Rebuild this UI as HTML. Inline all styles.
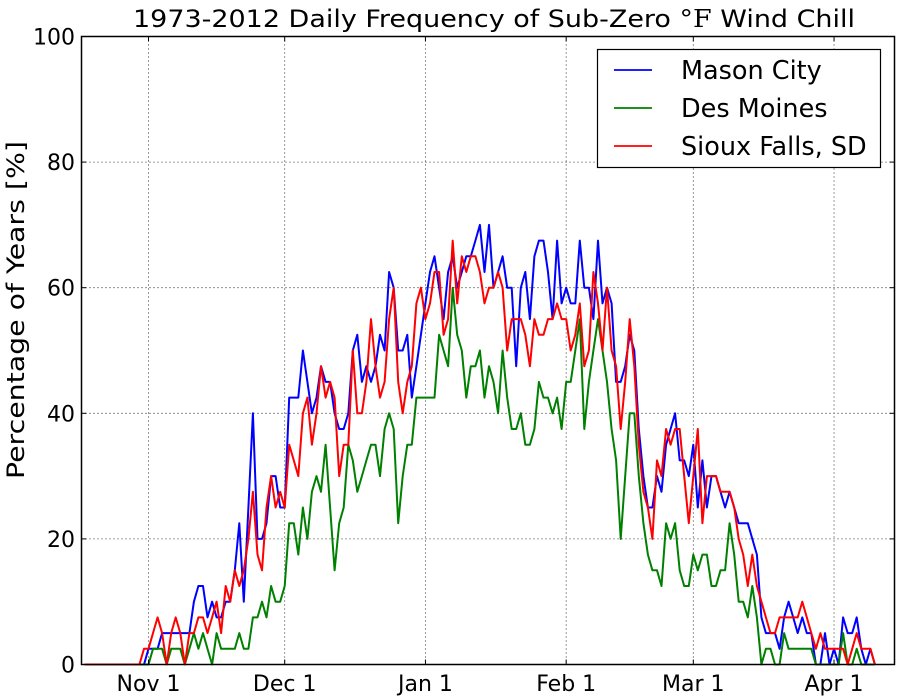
<!DOCTYPE html>
<html><head><meta charset="utf-8"><style>
body{margin:0;background:#fff;}
svg{display:block;font-family:"DejaVu Sans","Liberation Sans",sans-serif;}
</style></head><body>
<svg id="chart" width="900" height="699" viewBox="0 0 900 699" xmlns="http://www.w3.org/2000/svg">
<rect width="900" height="699" fill="#fff"/>
<text x="133" y="27" font-size="24" textLength="722" lengthAdjust="spacingAndGlyphs">1973-2012 Daily Frequency of Sub-Zero <tspan>°</tspan><tspan font-family="'DejaVu Serif','Liberation Serif',serif">F</tspan> Wind Chill</text>
<text transform="translate(24,479) rotate(-90)" font-size="24" textLength="338" lengthAdjust="spacingAndGlyphs">Percentage of Years [%]</text>
<g id="grid"></g>
<g id="series"></g>
<rect x="81.5" y="36.5" width="813" height="628" fill="none" stroke="#000" stroke-width="1.5"/>
<g id="ticks"></g>
<g>
<rect x="597.5" y="49.5" width="283" height="118" fill="#fff" stroke="#000" stroke-width="1.2"/>
<g><line x1="614" y1="70" x2="652" y2="70" stroke="#0000ff" stroke-width="1.8"/><text x="681" y="79" font-size="25.5">Mason City</text></g>
<g><line x1="614" y1="108" x2="652" y2="108" stroke="#008000" stroke-width="1.8"/><text x="681" y="117" font-size="25.5">Des Moines</text></g>
<g><line x1="614" y1="146" x2="652" y2="146" stroke="#ff0000" stroke-width="1.8"/><text x="681" y="155" font-size="25.5">Sioux Falls, SD</text></g>
</g>
</svg>
<script>
const startDay = -14;
const xTickDays = [0, 30, 61, 92, 120, 151];
const xTickLabels = ["Nov 1", "Dec 1", "Jan 1", "Feb 1", "Mar 1", "Apr 1"];
const yTicks = [0, 20, 40, 60, 80, 100];
const masonCity = [0,0,0,0,0,0,0,0,0,0,0,0,0,0,
2.5,2.5,2.5,5,5,5,5,5,5,5,10,12.5,12.5,7.5,10,7.5,7.5,10,10,15,22.5,10,25,40,20,20,22.5,30,30,25,25,
42.5,42.5,42.5,50,45,40,42.5,47.5,45,45,40,37.5,37.5,40,50,52.5,45,47.5,45,47.5,52.5,50,62.5,60,50,50,52.5,42.5,47.5,
52.5,57.5,62.5,65,60,55,62.5,65,60,62.5,65,65,67.5,70,62.5,70,60,62.5,65,60,60,47.5,60,62.5,55,65,67.5,67.5,62.5,55,67.5,57.5,60,
57.5,57.5,67.5,60,60,55,67.5,57.5,60,57.5,45,45,47.5,52.5,50,37.5,30,25,25,30,27.5,35,37.5,40,32.5,32.5,30,35,25,32.5,25,
30,30,27.5,25,27.5,25,22.5,22.5,22.5,20,17.5,7.5,5,5,5,2.5,7.5,10,
7.5,5,7.5,5,5,0,0,5,0,2.5,0,7.5,5,5,7.5,2.5,0,2.5,0];
const desMoines = [0,0,0,0,0,0,0,0,0,0,0,0,0,0,0,
2.5,2.5,2.5,0,2.5,2.5,2.5,0,2.5,5,2.5,5,2.5,0,5,2.5,2.5,2.5,2.5,5,2.5,2.5,7.5,7.5,10,7.5,12.5,10,10,12.5,
22.5,22.5,17.5,25,20,27.5,30,27.5,35,25,15,22.5,25,35,32.5,27.5,30,32.5,35,35,30,37.5,40,37.5,22.5,30,35,35,42.5,
42.5,42.5,42.5,42.5,52.5,50,47.5,60,52.5,50,42.5,47.5,47.5,50,42.5,47.5,45,40,50,42.5,37.5,37.5,40,35,35,37.5,45,42.5,42.5,40,42.5,37.5,45,
45,50,55,37.5,45,50,55,50,45,37.5,32.5,20,30,40,40,30,22.5,17.5,
15,15,12.5,22.5,20,22.5,15,12.5,12.5,17.5,15,
17.5,17.5,12.5,12.5,15,15,22.5,17.5,10,10,7.5,12.5,7.5,0,2.5,2.5,0,0,5,2.5,
2.5,2.5,2.5,2.5,2.5,0,0,0,0,0,0,5,0,0,2.5,0,0,0,0];
const siouxFalls = [0,0,0,0,0,0,0,0,0,0,0,0,0,2.5,
2.5,5,7.5,5,0,5,7.5,5,0,5,5,7.5,7.5,5,7.5,10,5,12.5,10,15,12.5,15,20,27.5,17.5,15,25,30,25,27.5,25,
35,32.5,30,40,42.5,35,40,47.5,42.5,45,42.5,30,35,35,50,40,40,45,55,47.5,42.5,45,55,60,45,40,45,47.5,57.5,
60,55,57.5,62.5,62.5,52.5,55,67.5,57.5,65,62.5,65,65,62.5,57.5,60,60,62.5,60,50,55,55,55,52.5,47.5,55,52.5,52.5,55,55,57.5,55,55,
50,52.5,57.5,47.5,50,62.5,57.5,50,60,50,47.5,37.5,45,55,47.5,35,27.5,25,20,32.5,30,37.5,35,37.5,37.5,30,22.5,30,37.5,22.5,30,
30,30,27.5,27.5,27.5,25,20,17.5,12.5,17.5,12.5,10,7.5,5,5,7.5,7.5,7.5,
7.5,7.5,10,7.5,5,2.5,5,2.5,2.5,2.5,2.5,2.5,0,2.5,5,2.5,2.5,2.5,0];

const NS = "http://www.w3.org/2000/svg";
const X0 = 81.5, X1 = 894.5, Y0 = 664.5, Y1 = 36.5;
function xScale(d){ return 148.5 + d * 4.54; }
function yScale(v){ return Y0 - (v / 100) * (Y0 - Y1); }

const grid = document.getElementById("grid");
const ticks = document.getElementById("ticks");
xTickDays.forEach((d, i) => {
  const x = xScale(d);
  const g = document.createElementNS(NS, "line");
  
  
  g.setAttribute("x1", x); g.setAttribute("x2", x); g.setAttribute("y1", Y1); g.setAttribute("y2", Y0);
  g.setAttribute("stroke", "#000"); g.setAttribute("stroke-width", "0.8"); g.setAttribute("stroke-dasharray", "1,3");
  grid.appendChild(g);
  const t = document.createElementNS(NS, "text");
  
  
  t.setAttribute("x", x); t.setAttribute("y", 691); t.setAttribute("font-size", "22"); t.setAttribute("text-anchor", "middle");
  t.textContent = xTickLabels[i];
  ticks.appendChild(t);
  [[Y0, Y0 - 5], [Y1, Y1 + 5]].forEach(p => {
    const m = document.createElementNS(NS, "line");
    
    
    m.setAttribute("x1", x); m.setAttribute("x2", x); m.setAttribute("y1", p[0]); m.setAttribute("y2", p[1]);
    m.setAttribute("stroke", "#000");
    ticks.appendChild(m);
  });
});
yTicks.forEach(v => {
  const y = yScale(v);
  if (v > 0 && v < 100) {
    const g = document.createElementNS(NS, "line");
    
    
    g.setAttribute("x1", X0); g.setAttribute("x2", X1); g.setAttribute("y1", y); g.setAttribute("y2", y);
    g.setAttribute("stroke", "#000"); g.setAttribute("stroke-width", "0.8"); g.setAttribute("stroke-dasharray", "1,3");
    grid.appendChild(g);
  }
  const t = document.createElementNS(NS, "text");
  
  
  t.setAttribute("x", 75); t.setAttribute("y", y + 8); t.setAttribute("font-size", "22"); t.setAttribute("text-anchor", "end");
  t.textContent = String(v);
  ticks.appendChild(t);
  [[X0, X0 + 5], [X1, X1 - 5]].forEach(p => {
    const m = document.createElementNS(NS, "line");
    
    
    m.setAttribute("x1", p[0]); m.setAttribute("x2", p[1]); m.setAttribute("y1", y); m.setAttribute("y2", y);
    m.setAttribute("stroke", "#000");
    ticks.appendChild(m);
  });
});

const seriesG = document.getElementById("series");
function drawSeries(vals, color, name){
  const pts = vals.map((v, i) => xScale(startDay + i).toFixed(1) + "," + yScale(v).toFixed(1));
  const p = document.createElementNS(NS, "polyline");
  
  
  p.setAttribute("points", pts.join(" "));
  p.setAttribute("fill", "none"); p.setAttribute("stroke", color); p.setAttribute("stroke-width", "2");
  p.setAttribute("stroke-linejoin", "round");
  seriesG.appendChild(p);
}
drawSeries(masonCity, "#0000ff", "mason-city-line");
drawSeries(desMoines, "#008000", "des-moines-line");
drawSeries(siouxFalls, "#ff0000", "sioux-falls-line");
</script>
</body></html>
